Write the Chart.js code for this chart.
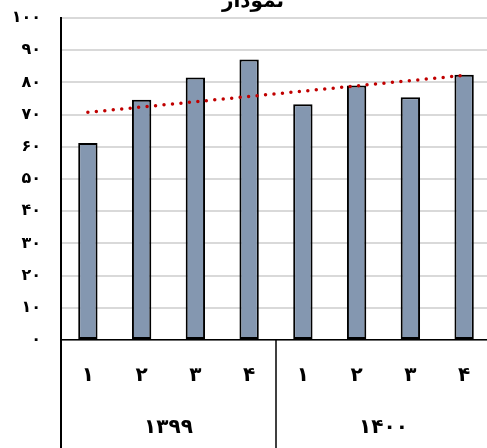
<!DOCTYPE html>
<html>
<head>
<meta charset="utf-8">
<script src="https://cdn.jsdelivr.net/npm/chart.js@4"></script>
<style>
  html, body { margin: 0; padding: 0; background: #fff; overflow: hidden; }
  #wrap { width: 491px; height: 448px; position: relative; }
</style>
</head>
<body>
<div id="wrap"><canvas id="chart"></canvas></div>
<script>
"use strict";

const quarters = ['۱', '۲', '۳', '۴', '۱', '۲', '۳', '۴'];
const years = ['۱۳۹۹', '۱۴۰۰'];
const values = [61.2, 74.6, 81.5, 87.1, 73.2, 79.0, 75.4, 82.4];
// trend line end points
const trend = [70.7, null, null, null, null, null, null, 82.2];
const yTickLabels = ['۰', '۱۰', '۲۰', '۳۰', '۴۰', '۵۰', '۶۰', '۷۰', '۸۰', '۹۰', '۱۰۰'];
const titleText = 'نمودار';

const FONT = "'DejaVu Sans', sans-serif";

// left axis extension, year separator and the clipped title
const decor = {
  id: 'decor',
  afterDraw(chart) {
    const ctx = chart.ctx;
    const area = chart.chartArea;
    const xs = chart.scales.x;
    const mid = (xs.getPixelForValue(3) + xs.getPixelForValue(4)) / 2;
    ctx.save();
    ctx.strokeStyle = '#000';
    ctx.lineWidth = 2;
    ctx.beginPath();
    ctx.moveTo(area.left, area.top);
    ctx.lineTo(area.left, chart.height);
    ctx.stroke();
    ctx.lineWidth = 1.5;
    ctx.beginPath();
    ctx.moveTo(mid, area.bottom);
    ctx.lineTo(mid, chart.height);
    ctx.stroke();

    ctx.fillStyle = '#000';
    ctx.font = 'bold 20px ' + FONT;
    ctx.textAlign = 'center';
    ctx.textBaseline = 'alphabetic';
    ctx.fillText(titleText, 253, 7);
    ctx.restore();
  }
};

new Chart(document.getElementById('chart'), {
  type: 'bar',
  data: {
    labels: quarters,
    datasets: [
      {
        type: 'line',
        data: trend,
        borderColor: '#c00000',
        borderWidth: 3.5,
        borderDash: [0, 8.5],
        borderCapStyle: 'round',
        pointRadius: 0,
        spanGaps: true,
        fill: false,
        order: 0,
      },
      {
        data: values,
        backgroundColor: '#8497b0',
        borderColor: '#000',
        borderWidth: 2,
        borderSkipped: false,
        categoryPercentage: 1,
        barPercentage: 0.36,
        order: 1,
      },
    ],
  },
  options: {
    responsive: true,
    maintainAspectRatio: false,
    animation: false,
    layout: { padding: { top: 18, right: 0, left: 0, bottom: 0 } },
    plugins: {
      legend: { display: false },
      tooltip: { enabled: false },
      title: { display: false },
    },
    scales: {
      y: {
        min: 0,
        max: 100,
        afterFit: (s) => { s.width = 61; },
        ticks: {
          stepSize: 10,
          padding: 0,
          color: '#000',
          font: { family: FONT, size: 16, weight: 'bold' },
          callback: (v, i) => yTickLabels[i],
        },
        grid: { color: '#d9d9d9', lineWidth: 2, drawTicks: true, tickLength: 20, tickColor: 'rgba(0,0,0,0)' },
        border: { color: '#000', width: 2 },
      },
      x: {
        position: 'bottom',
        afterFit: (s) => { s.height = 55; },
        ticks: {
          padding: 16,
          color: '#000',
          font: { family: FONT, size: 20, weight: 'bold' },
          maxRotation: 0,
        },
        grid: { display: false },
        border: { color: '#000', width: 1.5 },
      },
      x2: {
        type: 'category',
        position: 'bottom',
        labels: years,
        offset: true,
        afterFit: (s) => { s.height = 53; },
        ticks: {
          padding: 13,
          color: '#000',
          font: { family: FONT, size: 20, weight: 'bold' },
          maxRotation: 0,
        },
        grid: { display: false },
        border: { display: false },
      },
    },
  },
  plugins: [decor],
});
</script>
</body>
</html>
